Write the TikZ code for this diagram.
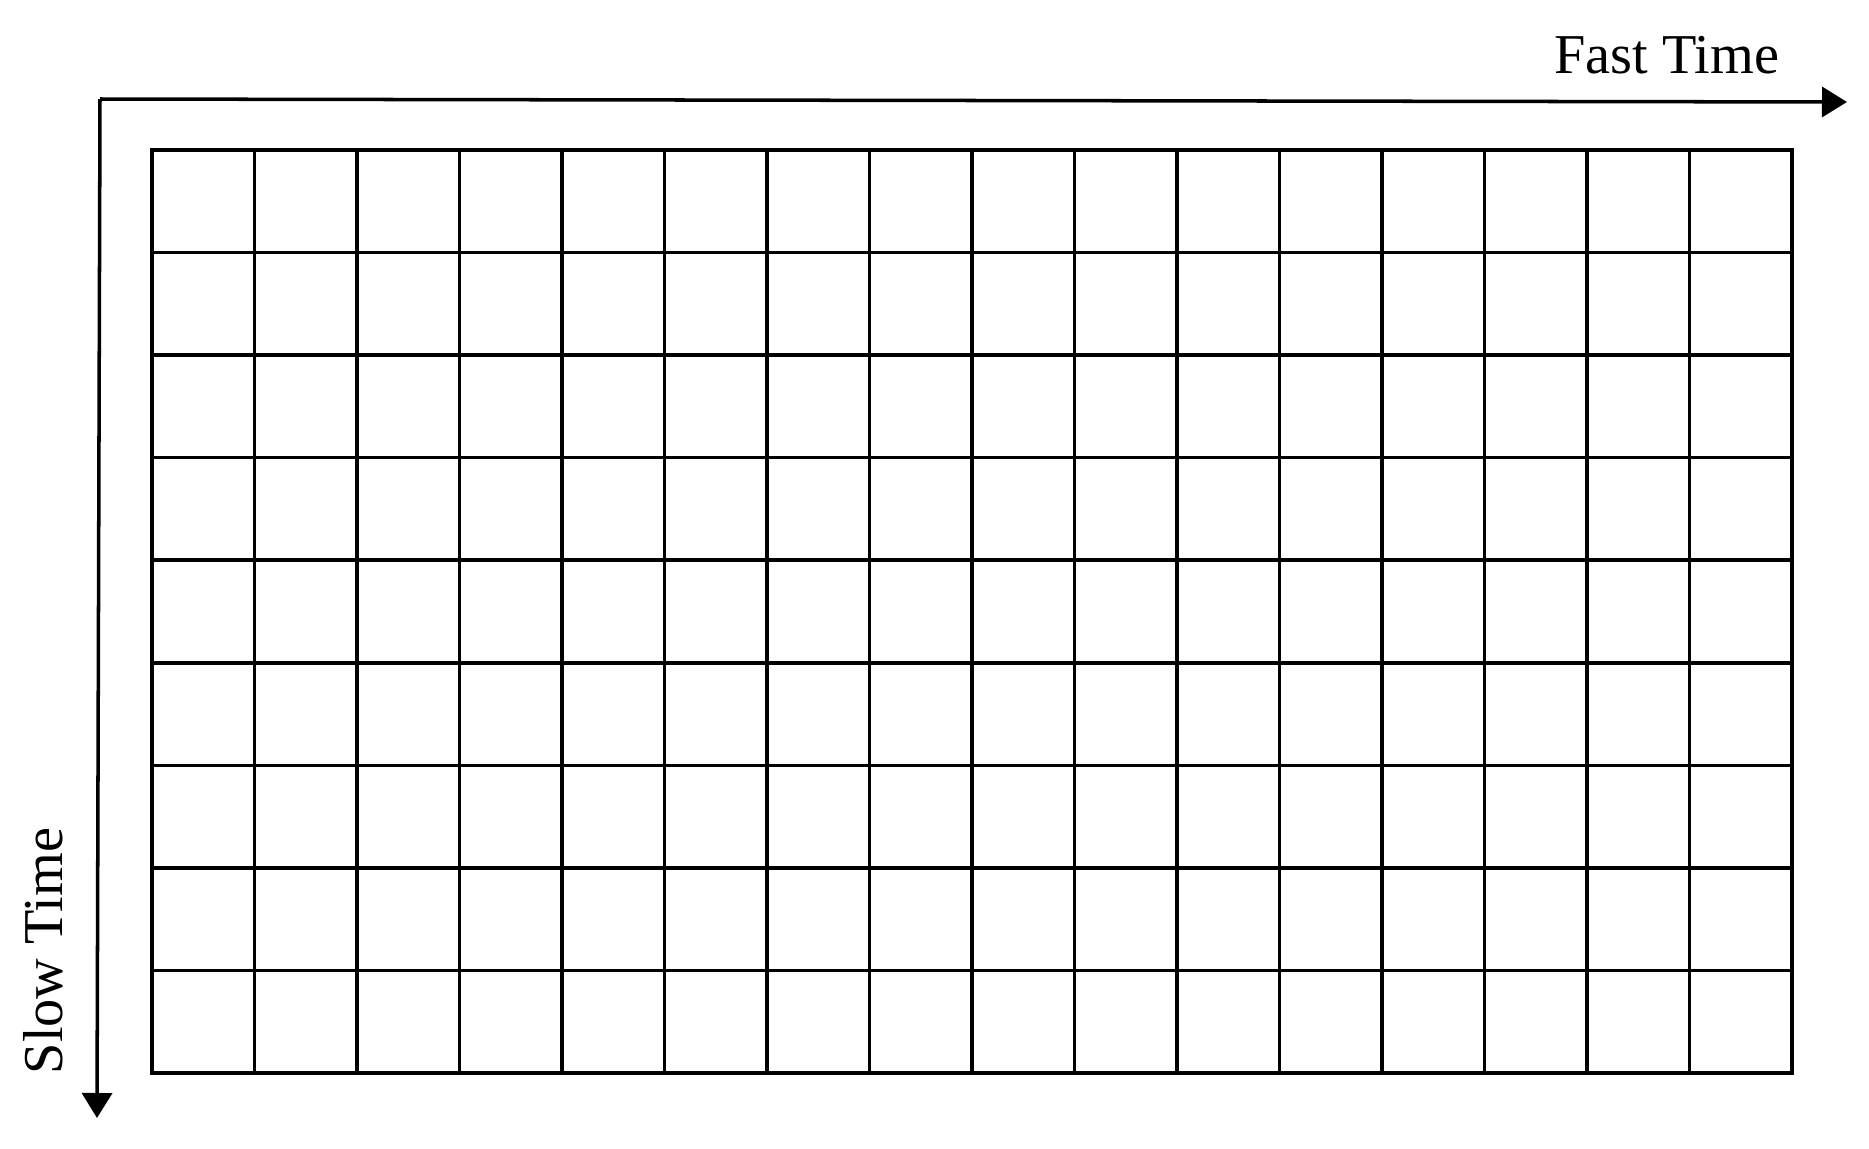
\documentclass[tikz,border=0pt]{standalone}
\usepackage{fontspec}
\setmainfont{Liberation Serif}
\usetikzlibrary{arrows.meta, positioning}

\begin{document}
\begin{tikzpicture}[
        x=0.01cm, y=-0.01cm,
        every node/.style={font=\fontsize{16}{19}\selectfont, inner sep=0pt},
        axis/.style={line width=1pt, -{Triangle[length=0.25cm, width=0.3cm]}},
        cell/.style={line width=1pt},
      ]
        \useasboundingbox (0,0) rectangle (1869,1148);

        % axes
        \coordinate (origin)  at (100,99);
        \coordinate (fastend) at (1847,102);
        \coordinate (slowend) at (97,1118);
        \draw[axis] (origin) -- (fastend);
        \draw[axis] (origin) -- (slowend);

        \node[anchor=base] (fast) at (1667,73) {Fast Time};
        \node[anchor=base, rotate=90] (slow) at (62,951) {Slow Time};

        % 16 x 9 grid of samples
        \draw[cell] (152,150) rectangle (1792,1073);
        \foreach \i in {1,...,15}
          \draw[cell] ({152+102.5*\i},150) -- ({152+102.5*\i},1073);
        \foreach \j in {1,...,8}
          \draw[cell] (152,{150+102.556*\j}) -- (1792,{150+102.556*\j});
      \end{tikzpicture}
\end{document}
